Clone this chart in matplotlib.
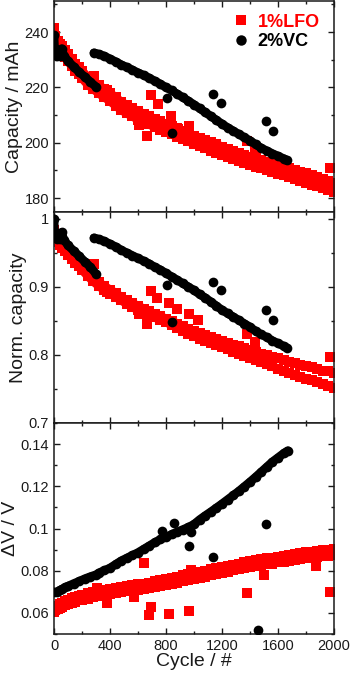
import matplotlib
matplotlib.use("Agg")
import matplotlib.pyplot as plt
from matplotlib.ticker import MultipleLocator, FuncFormatter
from matplotlib.lines import Line2D

plt.rcParams['font.family'] = ['Liberation Sans', 'DejaVu Sans']

# ---------------- data ----------------
labels = ["1%LFO", "2%VC"]

# LFO (red squares): cycle grid
lfo_cyc = [0, 10, 25, 40, 60, 80, 100, 125, 150, 175, 200, 240, 280, 320, 360, 400, 440, 480,
           520, 560, 600, 640, 680, 720, 760, 800, 840, 880, 920, 960, 1000, 1040, 1080, 1120,
           1160, 1200, 1240, 1280, 1320, 1360, 1400, 1440, 1480, 1520, 1560, 1600, 1640, 1680,
           1720, 1760, 1800, 1840, 1880, 1920, 1960, 2000]
lfo_cap_a = [241.5, 238.5, 236.8, 235.8, 234.8, 233.6, 232.0, 230.3, 228.6, 227.3, 226.0, 223.8,
             222.2, 220.8, 219.4, 218.0, 216.4, 214.8, 213.6, 212.5, 211.4, 210.5, 209.6, 208.6,
             207.7, 206.8, 206.0, 205.2, 204.3, 203.5, 202.6, 201.8, 201.0, 200.2, 199.4, 198.6,
             197.8, 197.0, 196.3, 195.6, 195.0, 194.4, 193.8, 193.1, 192.5, 191.9, 191.4, 190.9,
             190.2, 189.6, 189.0, 188.3, 187.6, 187.0, 186.3, 185.6]
lfo_cap_b = [238.5, 235.0, 233.8, 233.2, 232.0, 230.9, 229.5, 227.7, 226.0, 224.7, 223.3, 221.0,
             219.4, 217.8, 216.4, 215.0, 213.4, 211.8, 210.6, 209.5, 208.4, 207.5, 206.6, 205.6,
             204.7, 203.8, 203.0, 202.2, 201.3, 200.5, 199.6, 198.8, 198.0, 197.2, 196.4, 195.6,
             194.8, 194.0, 193.3, 192.6, 192.0, 191.4, 190.8, 190.1, 189.3, 188.7, 188.2, 187.7,
             187.0, 186.2, 185.6, 184.9, 184.2, 183.6, 182.9, 182.3]
lfo_norm_a = [0.984, 0.978, 0.972, 0.968, 0.963, 0.958, 0.953, 0.947, 0.941, 0.936, 0.931, 0.922,
              0.914, 0.907, 0.901, 0.896, 0.891, 0.885, 0.880, 0.876, 0.872, 0.868, 0.864, 0.860,
              0.857, 0.853, 0.850, 0.846, 0.842, 0.838, 0.835, 0.832, 0.829, 0.826, 0.824, 0.821,
              0.818, 0.815, 0.813, 0.810, 0.807, 0.804, 0.802, 0.800, 0.797, 0.795, 0.792, 0.789,
              0.788, 0.785, 0.783, 0.782, 0.779, 0.777, 0.776, 0.774]
lfo_norm_b = [0.974, 0.970, 0.966, 0.962, 0.957, 0.952, 0.947, 0.941, 0.935, 0.930, 0.925, 0.916,
              0.908, 0.901, 0.895, 0.890, 0.885, 0.880, 0.875, 0.870, 0.866, 0.862, 0.858, 0.855,
              0.851, 0.848, 0.844, 0.840, 0.835, 0.831, 0.828, 0.824, 0.821, 0.818, 0.815, 0.812,
              0.808, 0.805, 0.802, 0.799, 0.795, 0.792, 0.789, 0.787, 0.783, 0.780, 0.777, 0.773,
              0.771, 0.768, 0.765, 0.763, 0.760, 0.757, 0.755, 0.752]
lfo_dv_a = [0.0618, 0.0626, 0.0634, 0.0641, 0.0649, 0.0656, 0.0663, 0.0670, 0.0676, 0.0681,
            0.0686, 0.0692, 0.0698, 0.0704, 0.0709, 0.0714, 0.0718, 0.0722, 0.0727, 0.0731,
            0.0735, 0.0739, 0.0744, 0.0749, 0.0754, 0.0759, 0.0765, 0.0771, 0.0778, 0.0783,
            0.0788, 0.0794, 0.0800, 0.0806, 0.0811, 0.0817, 0.0823, 0.0829, 0.0834, 0.0839,
            0.0844, 0.0849, 0.0854, 0.0858, 0.0862, 0.0867, 0.0871, 0.0876, 0.0880, 0.0884,
            0.0887, 0.0890, 0.0893, 0.0896, 0.0899, 0.0901]
lfo_dv_b = [0.0604, 0.0612, 0.0618, 0.0623, 0.0630, 0.0636, 0.0642, 0.0648, 0.0654, 0.0659,
            0.0663, 0.0668, 0.0674, 0.0680, 0.0685, 0.0690, 0.0694, 0.0698, 0.0702, 0.0706,
            0.0710, 0.0714, 0.0718, 0.0723, 0.0728, 0.0733, 0.0738, 0.0744, 0.0750, 0.0755,
            0.0760, 0.0766, 0.0772, 0.0778, 0.0783, 0.0789, 0.0795, 0.0801, 0.0806, 0.0811,
            0.0816, 0.0821, 0.0826, 0.0830, 0.0834, 0.0839, 0.0843, 0.0847, 0.0851, 0.0855,
            0.0859, 0.0862, 0.0866, 0.0869, 0.0872, 0.0875]

# LFO scattered points
lfo_out_cap_cyc = [690, 743, 607, 662, 833, 964, 886, 1376, 1436, 1971, 286, 376]
lfo_out_cap = [217.1, 214.0, 206.4, 202.4, 209.8, 206.2, 205.0, 200.8, 198.1, 191.0, 224.0, 219.0]
lfo_out_norm_cyc = [286, 376, 690, 738, 666, 607, 821, 881, 964, 1031, 1376, 1436, 1971]
lfo_out_norm = [0.934, 0.892, 0.894, 0.883, 0.846, 0.860, 0.877, 0.867, 0.860, 0.851, 0.830, 0.819, 0.797]
lfo_out_dv_cyc = [643, 690, 679, 821, 964, 1381, 1971, 1500, 1871, 309, 381, 571, 975]
lfo_out_dv = [0.0836, 0.0629, 0.0589, 0.0597, 0.0608, 0.0693, 0.0697, 0.0780, 0.0820, 0.0716,
              0.0648, 0.0676, 0.0803]

# VC (black circles)
vc1_cyc = [0, 5, 20, 40, 55, 70, 100, 140, 180, 220, 260, 300]
vc1_cap = [238.8, 233.0, 231.5, 231.5, 234.0, 231.5, 229.5, 227.5, 225.5, 223.8, 222.0, 220.2]
vc1_norm = [1.000, 0.975, 0.970, 0.971, 0.980, 0.969, 0.961, 0.953, 0.945, 0.937, 0.929, 0.919]

vc2_cyc = [285, 320, 360, 400, 440, 480, 520, 560, 600, 640, 680, 720, 760, 800, 840, 880, 920,
           960, 1000, 1040, 1080, 1120, 1160, 1200, 1240, 1280, 1320, 1360, 1400, 1440, 1480,
           1520, 1560, 1600, 1640, 1665]
vc2_cap = [232.5, 232.0, 231.3, 230.3, 229.3, 228.2, 227.3, 226.3, 225.3, 224.4, 223.4, 222.3,
           221.2, 220.0, 218.9, 217.6, 216.4, 215.1, 213.8, 212.4, 211.0, 209.6, 208.2, 206.8,
           205.5, 204.3, 203.1, 201.9, 200.8, 199.4, 198.1, 197.1, 196.1, 195.2, 194.3, 193.6]
vc2_norm = [0.972, 0.970, 0.967, 0.963, 0.959, 0.954, 0.950, 0.946, 0.942, 0.938, 0.934, 0.929,
            0.925, 0.920, 0.915, 0.910, 0.905, 0.900, 0.895, 0.889, 0.884, 0.878, 0.872, 0.866,
            0.861, 0.856, 0.851, 0.846, 0.841, 0.835, 0.830, 0.826, 0.821, 0.817, 0.813, 0.810]

vc_dv_cyc = [0, 20, 40, 60, 80, 100, 140, 180, 220, 260, 300, 320, 360, 400, 440, 480, 520, 560,
             600, 640, 680, 720, 760, 800, 840, 880, 920, 960, 1000, 1040, 1080, 1120, 1160,
             1200, 1240, 1280, 1320, 1360, 1400, 1440, 1480, 1520, 1560, 1600, 1640, 1670]
vc_dv = [0.0697, 0.0700, 0.0707, 0.0714, 0.0721, 0.0727, 0.0739, 0.0750, 0.0762, 0.0772, 0.0781,
         0.0790, 0.0801, 0.0813, 0.0830, 0.0847, 0.0860, 0.0873, 0.0886, 0.0902, 0.0918, 0.0934,
         0.0948, 0.0960, 0.0972, 0.0984, 0.0995, 0.1006, 0.1020, 0.1042, 0.1061, 0.1079, 0.1098,
         0.1117, 0.1137, 0.1157, 0.1177, 0.1199, 0.1221, 0.1244, 0.1268, 0.1292, 0.1316, 0.1336,
         0.1356, 0.1369]

vc_out_cap_cyc = [1133, 1190, 1514, 1567, 845, 810]
vc_out_cap = [217.5, 214.5, 207.7, 204.4, 203.6, 216.3]
vc_out_norm_cyc = [1133, 1190, 1514, 1567, 845, 810]
vc_out_norm = [0.907, 0.896, 0.866, 0.852, 0.848, 0.902]
vc_out_dv_cyc = [774, 857, 964, 1133, 1514, 1460, 975]
vc_out_dv = [0.0990, 0.1025, 0.0915, 0.0867, 0.1022, 0.0517, 0.0985]

x_ticks = [0, 400, 800, 1200, 1600, 2000]

# ---------------- figure ----------------
RED = "#ff0000"
BLK = "#000000"
MS = 7.0
LW = 6.2

fig = plt.figure(figsize=(3.5, 6.77), dpi=100)
L, W = 0.1543, 0.8000
ax1 = fig.add_axes([L, 0.6869, W, 0.3116])
ax2 = fig.add_axes([L, 0.3752, W, 0.3117])
ax3 = fig.add_axes([L, 0.0635, W, 0.3117])

def red(ax, x, y, band=True):
    if band:
        ax.plot(x, y, ls='-', lw=LW, color=RED, solid_capstyle='butt', zorder=2)
    ax.plot(x, y, ls='none', marker='s', ms=MS, mfc=RED, mec=RED, mew=0, zorder=2)

def blk(ax, x, y, band=True):
    if band:
        ax.plot(x, y, ls='-', lw=LW, color=BLK, solid_capstyle='round', zorder=3)
    ax.plot(x, y, ls='none', marker='o', ms=MS, mfc=BLK, mec=BLK, mew=0, zorder=3)

# top
red(ax1, lfo_cyc, lfo_cap_a); red(ax1, lfo_cyc, lfo_cap_b); red(ax1, lfo_out_cap_cyc, lfo_out_cap, False)
blk(ax1, vc1_cyc, vc1_cap); blk(ax1, vc2_cyc, vc2_cap); blk(ax1, vc_out_cap_cyc, vc_out_cap, False)
# middle
red(ax2, lfo_cyc, lfo_norm_a); red(ax2, lfo_cyc, lfo_norm_b); red(ax2, lfo_out_norm_cyc, lfo_out_norm, False)
blk(ax2, vc1_cyc, vc1_norm); blk(ax2, vc2_cyc, vc2_norm); blk(ax2, vc_out_norm_cyc, vc_out_norm, False)
# bottom
red(ax3, lfo_cyc, lfo_dv_a); red(ax3, lfo_cyc, lfo_dv_b); red(ax3, lfo_out_dv_cyc, lfo_out_dv, False)
blk(ax3, vc_dv_cyc, vc_dv); blk(ax3, vc_out_dv_cyc, vc_out_dv, False)

fmt = FuncFormatter(lambda v, p: f"{v:g}")
TXT = '#1a1a1a'

for ax in (ax1, ax2, ax3):
    ax.set_xlim(0, 2000)
    ax.xaxis.set_major_locator(MultipleLocator(400))
    ax.xaxis.set_minor_locator(MultipleLocator(200))
    ax.tick_params(which='both', direction='in', top=True, right=True, labelsize=10.5,
                   width=1.0, colors=TXT, labelcolor=TXT)
    ax.tick_params(which='major', length=4.5)
    ax.tick_params(which='minor', length=2.5)
    for s in ax.spines.values():
        s.set_linewidth(1.1)
        s.set_color(TXT)
    ax.yaxis.set_major_formatter(fmt)

ax1.set_ylim(175, 251.2)
ax1.yaxis.set_major_locator(MultipleLocator(20))
ax1.yaxis.set_minor_locator(MultipleLocator(10))
ax1.set_ylabel("Capacity / mAh", fontsize=14, color=TXT, labelpad=1)
ax1.tick_params(labelbottom=False)

ax2.set_ylim(0.7, 1.01)
ax2.yaxis.set_major_locator(MultipleLocator(0.1))
ax2.yaxis.set_minor_locator(MultipleLocator(0.05))
ax2.set_ylabel("Norm. capacity", fontsize=14, color=TXT, labelpad=1)
ax2.tick_params(labelbottom=False)

ax3.set_ylim(0.05, 0.15)
ax3.yaxis.set_major_locator(MultipleLocator(0.02))
ax3.yaxis.set_minor_locator(MultipleLocator(0.01))
ax3.set_ylabel("\u0394V / V", fontsize=14, color=TXT, labelpad=1)
ax3.set_xticks(x_ticks)
ax3.xaxis.set_major_formatter(FuncFormatter(lambda v, p: f"{v:g}"))
ax3.set_xlabel("Cycle / #", fontsize=14, color=TXT, labelpad=0)

handles = [Line2D([], [], ls='none', marker='s', ms=7.5, mfc=RED, mec=RED, mew=0),
           Line2D([], [], ls='none', marker='o', ms=7.5, mfc=BLK, mec=BLK, mew=0)]
leg = ax1.legend(handles, labels, loc='upper right', frameon=False,
                 prop={'weight': 'bold', 'size': 13}, handletextpad=0.4, borderaxespad=0.0,
                 handlelength=1.0, labelspacing=0.15, bbox_to_anchor=(0.975, 0.975))
for t, c in zip(leg.get_texts(), [RED, BLK]):
    t.set_color(c)

fig.savefig("out.png", dpi=100)
